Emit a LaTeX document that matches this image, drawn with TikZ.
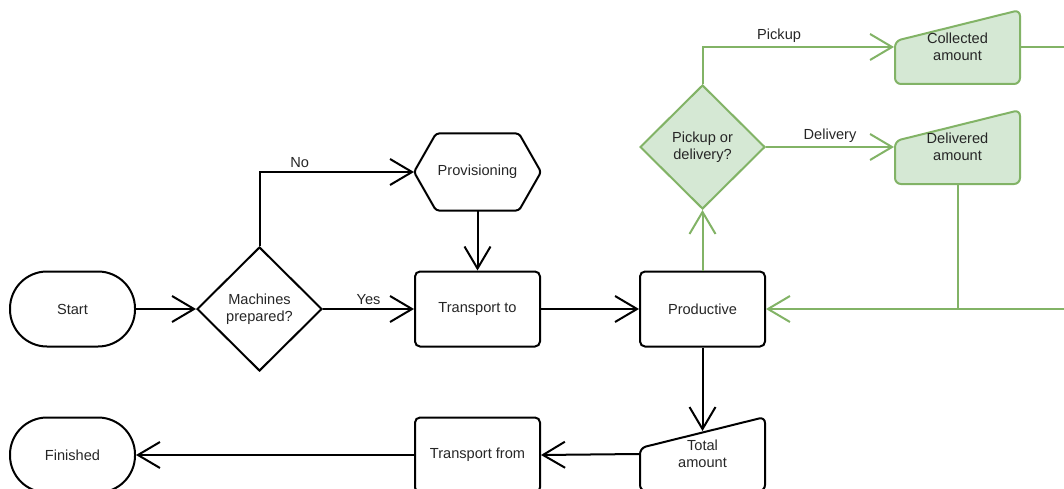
\documentclass[tikz,border=0pt]{standalone}
\usepackage{fontspec}
\setmainfont{Liberation Sans}
\usetikzlibrary{shapes.geometric,arrows.meta}
\definecolor{gline}{HTML}{82B366}
\definecolor{gfill}{HTML}{D5E8D4}

\begin{document}
\begin{tikzpicture}[x=1pt, y=-1pt, line width=2pt,
	>={Straight Barb[length=22pt,width=26pt]},
	every node/.style={font=\fontsize{14.6}{17.5}\selectfont, text=black!85, align=center},
	term/.style={draw, rectangle, rounded corners=37pt, minimum width=125pt, minimum height=75pt},
	proc/.style={draw, rectangle, rounded corners=5pt, minimum width=125pt, minimum height=75pt},
	decide/.style={draw, diamond, minimum width=125pt, minimum height=124pt, inner sep=0pt},
	slot/.style={rectangle, minimum width=125pt, minimum height=75pt},
	manual/.style={rounded corners=6pt},
	lbl/.style={above=2pt, inner sep=1pt},
	glink/.style={draw=gline}]
	\clip (0, 0) rectangle (1064, 489);
	\draw[manual, gline, fill=gfill] (895, 41) -- (1020, 10) -- (1020, 84) -- (895, 84) -- cycle;
	\draw[manual, gline, fill=gfill] (895, 141) -- (1020, 110) -- (1020, 184) -- (895, 184) -- cycle;
	\draw[manual] (640, 448) -- (765, 417) -- (765, 491) -- (640, 491) -- cycle;
	\node[term] (start) at (72.5, 309){Start};
	\node[decide] (mach) at (259.5, 309){Machines\\prepared?};
	\node[slot] (prov) at (477.5, 172){Provisioning};
	\node[proc] (trto) at (477.5, 309){Transport to};
	\node[proc] (prod) at (702.5, 309){Productive};
	\node[decide, draw=gline, fill=gfill] (pick) at (702.5, 147){Pickup or\\delivery?};
	\node[slot, minimum height=74pt] (coll) at (957.5, 47){Collected\\amount};
	\node[slot, minimum height=74pt] (deli) at (957.5, 147){Delivered\\amount};
	\node[slot, minimum height=74pt] (tot) at (702.5, 454){Total\\amount};
	\node[proc] (trfrom) at (477.5, 455){Transport from};
	\node[term] (fin) at (72.5, 455){Finished};
	\draw[rounded corners=3pt] (prov.west) -- ([xshift=22pt]prov.north west) -- ([xshift=-22pt]prov.north east)
		-- (prov.east) -- ([xshift=-22pt]prov.south east) -- ([xshift=22pt]prov.south west) -- cycle;
	\draw[->] (start) -- (mach);
	\draw[->] (mach.north) |- node[lbl, pos=0.63]{No} (prov.west);
	\draw[->] (mach.east) -- node[lbl]{Yes} (trto.west);
	\draw[->] (prov.south) -- (trto.north);
	\draw[->] (trto) -- (prod);
	\draw[->] (prod.south) -- ([yshift=-15pt]tot.north);
	\draw[->] (tot.west) -- (trfrom.east);
	\draw[->] (trfrom) -- (fin);
	\draw[glink, ->] (prod.north) -- (pick.south);
	\draw[glink, ->] (pick.north) |- node[lbl, pos=0.7]{Pickup} (coll.west);
	\draw[glink, ->] (pick.east) -- node[lbl]{Delivery} (deli.west);
	\draw[glink, ->] (coll.east) -- ++(70, 0) |- (prod.east);
	\draw[glink] (deli.south) -- (deli.south |- prod.east);
\end{tikzpicture}
\end{document}
